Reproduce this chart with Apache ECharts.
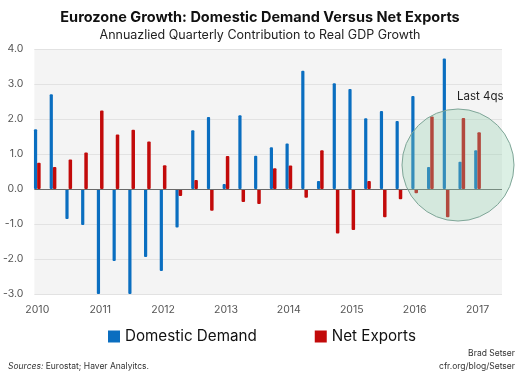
<!DOCTYPE html>
<html>
<head>
<meta charset="utf-8">
<script src="https://cdn.jsdelivr.net/npm/echarts@6/dist/echarts.min.js"></script>
<style>
  html, body { margin: 0; padding: 0; background: #ffffff; }
  #chart { width: 520px; height: 374px; }
</style>
</head>
<body>
<div id="chart"></div>
<script>
// ---- Data ----
const quarters = [
  '2010Q1','2010Q2','2010Q3','2010Q4',
  '2011Q1','2011Q2','2011Q3','2011Q4',
  '2012Q1','2012Q2','2012Q3','2012Q4',
  '2013Q1','2013Q2','2013Q3','2013Q4',
  '2014Q1','2014Q2','2014Q3','2014Q4',
  '2015Q1','2015Q2','2015Q3','2015Q4',
  '2016Q1','2016Q2','2016Q3','2016Q4',
  '2017Q1'
];
const domesticDemand = [
  1.71, 2.71, -0.86, -1.03,
  -3.0, -2.06, -3.0, -1.94,
  -2.34, -1.10, 1.68, 2.06,
  0.14, 2.11, 0.95, 1.19,
  1.30, 3.38, 0.23, 3.02,
  2.86, 2.02, 2.23, 1.94,
  2.66, 0.63, 3.73, 0.78,
  1.11
];
const netExports = [
  0.75, 0.63, 0.84, 1.04,
  2.24, 1.56, 1.69, 1.36,
  0.68, -0.20, 0.26, -0.62,
  0.94, -0.37, -0.43, 0.59,
  0.67, -0.25, 1.11, -1.27,
  -1.17, 0.23, -0.81, -0.29,
  -0.12, 2.07, -0.81, 2.03,
  1.62
];
const yearLabels = [2010, 2011, 2012, 2013, 2014, 2015, 2016, 2017];

// quarter string -> fractional year position
function qPos(q) {
  const y = parseInt(q.slice(0, 4), 10);
  const n = parseInt(q.slice(5), 10);
  return y + (n - 1) / 4;
}
const ddData = quarters.map((q, i) => [qPos(q), domesticDemand[i]]);
const nxData = quarters.map((q, i) => [qPos(q), netExports[i]]);

const BLUE = '#0a6ec0';
const RED = '#c20a0a';
const FONT = 'Inter';

const chart = echarts.init(document.getElementById('chart'), null, { renderer: 'canvas' });

chart.setOption({
  animation: false,
  backgroundColor: '#ffffff',
  textStyle: { fontFamily: FONT },
  title: [
    {
      text: 'Eurozone Growth: Domestic Demand Versus Net Exports',
      left: 'center', top: 5,
      textStyle: { fontFamily: FONT, fontWeight: 'bold', fontSize: 14.5, color: '#111111' }
    },
    {
      text: 'Annuazlied Quarterly Contribution to Real GDP Growth',
      left: 'center', top: 24,
      textStyle: { fontFamily: FONT, fontWeight: 'normal', fontSize: 12.5, color: '#222222' }
    }
  ],
  legend: {
    data: ['Domestic Demand', 'Net Exports'],
    left: 103, top: 324,
    itemWidth: 12, itemHeight: 12, itemGap: 58,
    icon: 'rect',
    textStyle: { fontFamily: FONT, fontSize: 15.2, color: '#111111' }
  },
  grid: {
    left: 32, right: 18, top: 49, bottom: 80,
    show: true, backgroundColor: '#f4f4f4', borderWidth: 0
  },
  xAxis: {
    type: 'value',
    min: 2009.953,
    max: 2017.389,
    axisLine: { show: false, onZero: false },
    axisTick: { show: false },
    splitLine: { show: false },
    axisLabel: {
      customValues: yearLabels,
      formatter: v => String(v),
      margin: 10,
      fontFamily: FONT, fontSize: 10.5, color: '#555555'
    }
  },
  yAxis: {
    type: 'value',
    min: -3, max: 4, interval: 1,
    axisLine: { show: false },
    axisTick: { show: false },
    splitLine: { show: true, lineStyle: { color: '#e2e2e2', width: 1 } },
    axisLabel: {
      formatter: v => v.toFixed(1),
      margin: 11,
      fontFamily: FONT, fontSize: 10.5, color: '#555555'
    }
  },
  series: [
    {
      name: 'Domestic Demand',
      type: 'bar',
      data: ddData,
      barWidth: 3.2,
      barGap: '0%',
      itemStyle: { color: BLUE, borderRadius: 1 },
      markLine: {
        silent: true,
        symbol: 'none',
        label: { show: false },
        lineStyle: { color: '#6a6a6a', width: 1, type: 'solid' },
        data: [{ yAxis: 0 }]
      }
    },
    {
      name: 'Net Exports',
      type: 'bar',
      data: nxData,
      barWidth: 3.5,
      barGap: '0%',
      itemStyle: { color: RED, borderRadius: 1 }
    }
  ],
  graphic: [
    {
      type: 'circle',
      z: 100,
      shape: { cx: 458, cy: 165, r: 56 },
      style: { fill: 'rgba(145,208,175,0.32)', stroke: '#7fa698', lineWidth: 1 }
    },
    {
      type: 'text',
      z: 101,
      left: 457, top: 91,
      style: { text: 'Last 4qs', fontFamily: FONT, fontSize: 11.5, fill: '#222222' }
    },
    {
      type: 'text',
      left: 8, top: 362,
      style: {
        text: '{i|Sources:} Eurostat; Haver Analyitcs.',
        fontFamily: FONT, fontSize: 8.5, fill: '#333333',
        rich: { i: { fontStyle: 'italic', fontFamily: FONT, fontSize: 8.5, fill: '#333333' } }
      }
    },
    {
      type: 'text',
      right: 5, top: 349,
      style: { text: 'Brad Setser', fontFamily: FONT, fontSize: 8.5, fill: '#333333', align: 'right' }
    },
    {
      type: 'text',
      right: 5, top: 362,
      style: { text: 'cfr.org/blog/Setser', fontFamily: FONT, fontSize: 8.5, fill: '#333333', align: 'right' }
    }
  ]
});
</script>
</body>
</html>
